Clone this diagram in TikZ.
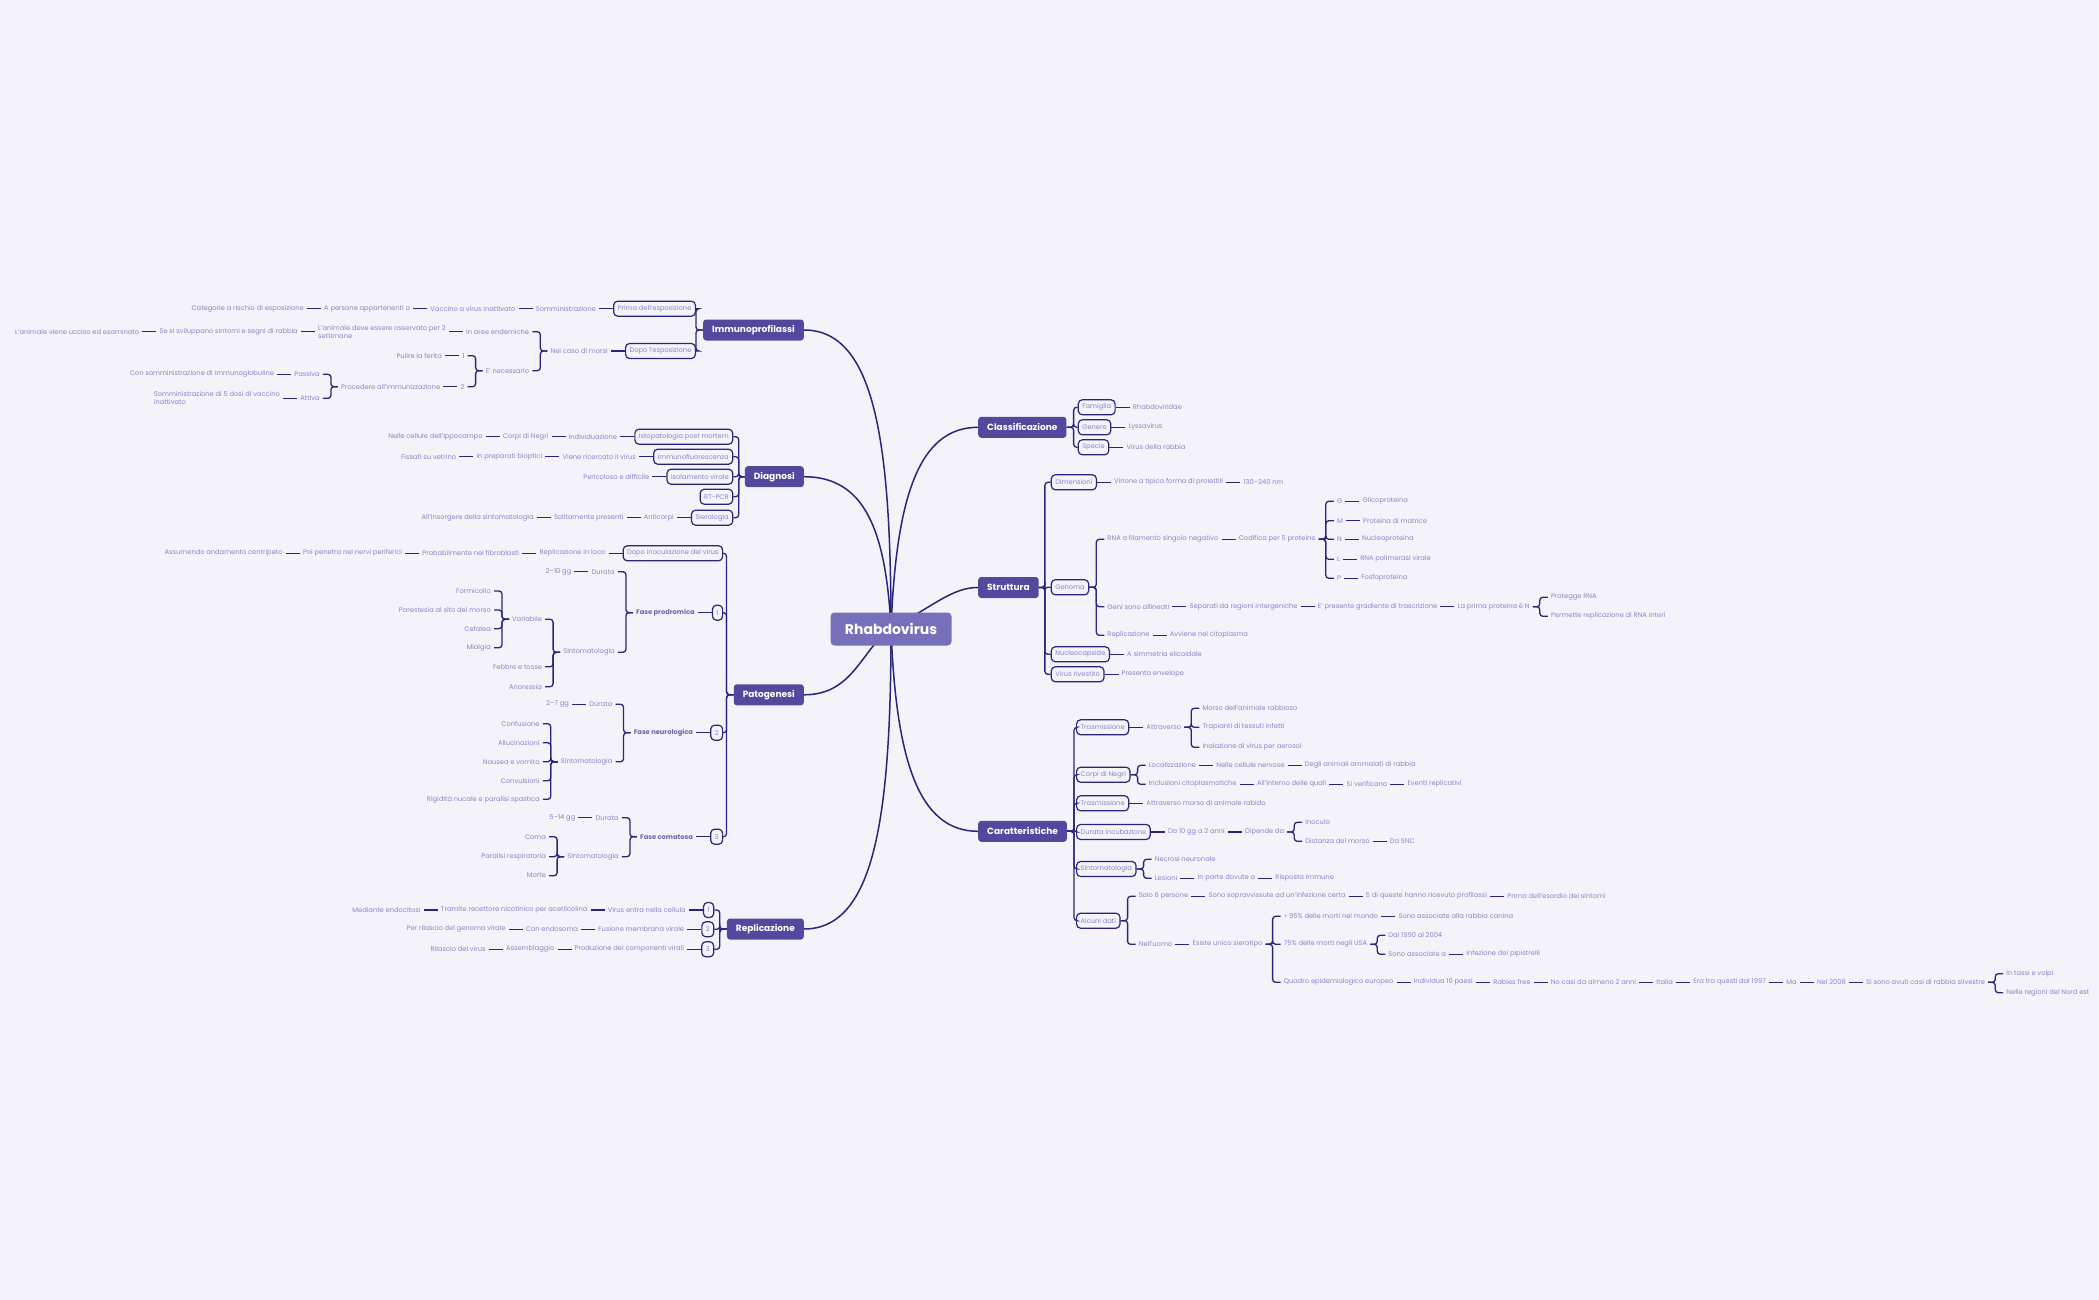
\documentclass[tikz,border=0pt]{standalone}
\usepackage{fontspec}
\setmainfont{Poppins}
\usepackage{tikz}
\usetikzlibrary{positioning, calc, backgrounds}
\usepackage{xcolor}
\definecolor{pagebg}{RGB}{244, 243, 250}
\definecolor{linknavy}{RGB}{40, 38, 122}
\definecolor{topicpurple}{RGB}{82, 72, 158}
\definecolor{rootpurple}{RGB}{118, 112, 186}
\definecolor{leafgray}{RGB}{138, 133, 200}
\definecolor{phasepurple}{RGB}{108, 102, 176}
\newcommand{\leaffont}{\fontsize{6.7}{8}\selectfont}

\begin{document}
\begin{tikzpicture}[
  x=1pt, y=-1pt,
  node distance = 14pt,
  rootbox/.style = {rectangle, rounded corners=4pt, fill=rootpurple, text=white,
                    minimum width=121pt, minimum height=33pt,
                    font=\fontsize{14}{16}\selectfont\bfseries},
  topic/.style   = {rectangle, rounded corners=3pt, fill=topicpurple, text=white,
                    minimum height=21pt, inner xsep=9pt,
                    font=\fontsize{9}{10}\selectfont\bfseries},
  subbox/.style  = {rectangle, rounded corners=4pt, draw=linknavy, line width=1.2pt,
                    fill=pagebg, text=leafgray, minimum height=15pt,
                    inner xsep=4pt, inner ysep=1pt, font=\leaffont},
  leaf/.style    = {text=leafgray, inner xsep=3pt, inner ysep=1pt, font=\leaffont},
  phase/.style   = {leaf, text=phasepurple, font=\leaffont\bfseries},
  link/.style    = {draw=linknavy, line width=1.3pt, rounded corners=3pt},
  branch/.style  = {draw=linknavy, line width=1.5pt}
]
\useasboundingbox (0,0) rectangle (2099,1300);

%% Centre
\node[rootbox] (root) at (891,629) {Rhabdovirus};

%% Immunoprofilassi
\node[topic, anchor=east] (immuno) at (804,330) {Immunoprofilassi};
\node[subbox, anchor=east] (prima) at (696,308.7) {Prima dell'esposizione};
\node[subbox, anchor=east] (dopo) at (696,351) {Dopo l'esposizione};
\node[leaf, left=of prima] (somm) {Somministrazione};
\node[leaf, left=of somm] (vaccino) {Vaccino a virus inattivato};
\node[leaf, left=of vaccino] (persone) {A persone appartenenti a};
\node[leaf, left=of persone] (categorie) {Categorie a rischio di esposizione};
\node[leaf, left=of dopo] (morsi) {Nel caso di morsi};
\node[leaf, anchor=east] (endem) at ($(morsi.west)+(-15,-19.3)$) {In aree endemiche};
\node[leaf, left=of endem, align=left] (osserv) {L'animale deve essere osservato per 2\\settimane};
\node[leaf, left=of osserv] (svilup) {Se si sviluppano sintomi e segni di rabbia};
\node[leaf, left=of svilup] (ucciso) {L'animale viene ucciso ed esaminato};
\node[leaf, anchor=east] (necess) at ($(morsi.west)+(-15,19.7)$) {E' necessario};
\node[leaf, anchor=east] (uno) at ($(necess.west)+(-15,-15)$) {1};
\node[leaf, left=of uno] (pulire) {Pulire la ferita};
\node[leaf, anchor=east] (due) at ($(necess.west)+(-15,16)$) {2};
\node[leaf, left=of due] (immun) {Procedere all'immunizzazione};
\node[leaf, anchor=east] (passiva) at ($(immun.west)+(-15,-12.4)$) {Passiva};
\node[leaf, left=of passiva] (immglob) {Con somministrazione di immunoglobuline};
\node[leaf, anchor=east] (attiva) at ($(immun.west)+(-15,11.6)$) {Attiva};
\node[leaf, left=of attiva, align=left] (cinque) {Somministrazione di 5 dosi di vaccino\\inattivato};

%% Diagnosi
\node[topic, anchor=east] (diagnosi) at (804,476.7) {Diagnosi};
\node[subbox, anchor=east] (isto) at (733.3,436.7) {Istopatologia post mortem};
\node[subbox, anchor=east] (immfl) at (733.3,456.7) {Immunofluorescenza};
\node[subbox, anchor=east] (isol) at (733.3,476.7) {Isolamento virale};
\node[subbox, anchor=east] (rtpcr) at (733.3,496.7) {RT-PCR};
\node[subbox, anchor=east] (sierol) at (733.3,517.7) {Sierologia};
\node[leaf, left=of isto] (indiv) {Individuazione};
\node[leaf, left=of indiv] (negri) {Corpi di Negri};
\node[leaf, left=of negri] (ippoc) {Nelle cellule dell'ippocampo};
\node[leaf, left=of immfl] (ricerc) {Viene ricercato il virus};
\node[leaf, left=of ricerc] (biopt) {In preparati bioptici};
\node[leaf, left=of biopt] (vetrino) {Fissati su vetrino};
\node[leaf, left=of isol] (pericol) {Pericoloso e difficile};
\node[leaf, left=of sierol] (anticorpi) {Anticorpi};
\node[leaf, left=of anticorpi] (solit) {Solitamente presenti};
\node[leaf, left=of solit] (insorg) {All'insorgere della sintomatologia};

%% Patogenesi
\node[topic, anchor=east] (patog) at (804,694.8) {Patogenesi};
\node[subbox, anchor=east] (inocul) at (723.2,553.3) {Dopo inoculazione del virus};
\node[subbox, anchor=east] (fase1) at (723.2,612.7) {1};
\node[subbox, anchor=east] (fase2) at (723.2,732.7) {2};
\node[subbox, anchor=east] (fase3) at (723.2,836.7) {3};
\node[leaf, left=of inocul] (locorep) {Replicazione in loco};
\node[leaf, left=of locorep] (fibro) {Probabilmente nei fibroblasti};
\node[leaf, left=of fibro] (nervi) {Poi penetra nei nervi periferici};
\node[leaf, left=of nervi] (centrip) {Assumendo andamento centripeto};

\node[phase, left=of fase1] (prodrom) {Fase prodromica};
\node[leaf, anchor=east] (durA) at ($(prodrom.west)+(-15,-41)$) {Durata};
\node[leaf, left=of durA] (ggA) {2--10 gg};
\node[leaf, anchor=east] (sintA) at ($(prodrom.west)+(-15,39.6)$) {Sintomatologia};
\node[leaf, anchor=east] (variab) at ($(sintA.west)+(-15,-33)$) {Variabile};
\node[leaf, anchor=east] (febbre) at ($(sintA.west)+(-15,14.4)$) {Febbre e tosse};
\node[leaf, anchor=east] (anoress) at ($(sintA.west)+(-15,34.4)$) {Anoressia};
\node[leaf, anchor=east] (formic) at ($(variab.west)+(-15,-28.3)$) {Formicolio};
\node[leaf, anchor=east] (parest) at ($(variab.west)+(-15,-9.3)$) {Parestesia al sito del morso};
\node[leaf, anchor=east] (cefalea) at ($(variab.west)+(-15,9.4)$) {Cefalea};
\node[leaf, anchor=east] (mialgia) at ($(variab.west)+(-15,28.4)$) {Mialgia};

\node[phase, left=of fase2] (neuro) {Fase neurologica};
\node[leaf, anchor=east] (durB) at ($(neuro.west)+(-15,-28.4)$) {Durata};
\node[leaf, left=of durB] (ggB) {2--7 gg};
\node[leaf, anchor=east] (sintB) at ($(neuro.west)+(-15,29)$) {Sintomatologia};
\node[leaf, anchor=east] (confus) at ($(sintB.west)+(-15,-38)$) {Confusione};
\node[leaf, anchor=east] (alluc) at ($(sintB.west)+(-15,-19)$) {Allucinazioni};
\node[leaf, anchor=east] (nausea) at ($(sintB.west)+(-15,0)$) {Nausea e vomito};
\node[leaf, anchor=east] (convul) at ($(sintB.west)+(-15,19)$) {Convulsioni};
\node[leaf, anchor=east] (rigid) at ($(sintB.west)+(-15,37.6)$) {Rigidità nucale e paralisi spastica};

\node[phase, left=of fase3] (comat) {Fase comatosa};
\node[leaf, anchor=east] (durC) at ($(comat.west)+(-15,-19)$) {Durata};
\node[leaf, left=of durC] (ggC) {5--14 gg};
\node[leaf, anchor=east] (sintC) at ($(comat.west)+(-15,20)$) {Sintomatologia};
\node[leaf, anchor=east] (coma) at ($(sintC.west)+(-15,-20)$) {Coma};
\node[leaf, anchor=east] (paral) at ($(sintC.west)+(-15,0)$) {Paralisi respiratoria};
\node[leaf, anchor=east] (morte) at ($(sintC.west)+(-15,19)$) {Morte};

%% Replicazione
\node[topic, anchor=east] (replic) at (804,929) {Replicazione};
\node[subbox, anchor=east] (rep1) at (714.3,910) {1};
\node[subbox, anchor=east] (rep2) at (714.3,929.3) {2};
\node[subbox, anchor=east] (rep3) at (714.3,949.3) {3};
\node[leaf, left=of rep1] (entra) {Virus entra nella cellula};
\node[leaf, left=of entra] (recett) {Tramite recettore nicotinico per acetilcolina};
\node[leaf, left=of recett] (endoc) {Mediante endocitosi};
\node[leaf, left=of rep2] (fusione) {Fusione membrana virale};
\node[leaf, left=of fusione] (endos) {Con endosoma};
\node[leaf, left=of endos] (rilgen) {Per rilascio del genoma virale};
\node[leaf, left=of rep3] (produz) {Produzione dei componenti virali};
\node[leaf, left=of produz] (assem) {Assemblaggio};
\node[leaf, left=of assem] (rilvir) {Rilascio del virus};

%% Classificazione
\node[topic, anchor=west] (classif) at (978,427.3) {Classificazione};
\node[subbox, anchor=west] (famiglia) at (1077.7,407.3) {Famiglia};
\node[subbox, anchor=west] (genere) at (1077.7,427.3) {Genere};
\node[subbox, anchor=west] (specie) at (1077.7,447.3) {Specie};
\node[leaf, right=of famiglia] (rhabdo) {Rhabdoviridae};
\node[leaf, right=of genere] (lyssa) {Lyssavirus};
\node[leaf, right=of specie] (vrabbia) {Virus della rabbia};

%% Struttura
\node[topic, anchor=west] (strutt) at (978,587.5) {Struttura};
\node[subbox, anchor=west] (dimens) at (1050.7,482.3) {Dimensioni};
\node[subbox, anchor=west] (genoma) at (1050.7,587.3) {Genoma};
\node[subbox, anchor=west] (nucleo) at (1050.7,654.3) {Nucleocapside};
\node[subbox, anchor=west] (rivest) at (1050.7,674.3) {Virus rivestito};
\node[leaf, right=of dimens] (virione) {Virione a tipica forma di proiettili};
\node[leaf, right=of virione] (nm) {130--240 nm};
\node[leaf, anchor=west] (rna) at ($(genoma.east)+(15,-48)$) {RNA a filamento singolo negativo};
\node[leaf, right=of rna] (codif) {Codifica per 5 proteine};
\node[leaf, anchor=west] (protG) at ($(codif.east)+(15,-38)$) {G};
\node[leaf, anchor=west] (protM) at ($(codif.east)+(15,-18.6)$) {M};
\node[leaf, anchor=west] (protN) at ($(codif.east)+(15,0)$) {N};
\node[leaf, anchor=west] (protL) at ($(codif.east)+(15,20)$) {L};
\node[leaf, anchor=west] (protP) at ($(codif.east)+(15,39)$) {P};
\node[leaf, right=of protG] (glico) {Glicoproteina};
\node[leaf, right=of protM] (matrice) {Proteina di matrice};
\node[leaf, right=of protN] (nucleoprot) {Nucleoproteina};
\node[leaf, right=of protL] (polim) {RNA polimerasi virale};
\node[leaf, right=of protP] (fosfo) {Fosfoproteina};
\node[leaf, anchor=west] (geni) at ($(genoma.east)+(15,19.4)$) {Geni sono allineati};
\node[leaf, right=of geni] (separ) {Separati da regioni intergeniche};
\node[leaf, right=of separ] (gradi) {E' presente gradiente di trascrizione};
\node[leaf, right=of gradi] (primaN) {La prima proteina è N};
\node[leaf, anchor=west] (protegge) at ($(primaN.east)+(15,-9.4)$) {Protegge RNA};
\node[leaf, anchor=west] (permette) at ($(primaN.east)+(15,9.6)$) {Permette replicazione di RNA interi};
\node[leaf, anchor=west] (replS) at ($(genoma.east)+(15,48)$) {Replicazione};
\node[leaf, right=of replS] (citopl) {Avviene nel citoplasma};
\node[leaf, right=of nucleo] (elic) {A simmetria elicoidale};
\node[leaf, right=of rivest] (envel) {Presenta envelope};

%% Caratteristiche
\node[topic, anchor=west] (caratt) at (978,831.3) {Caratteristiche};
\node[subbox, anchor=west] (trasA) at (1076,727.3) {Trasmissione};
\node[subbox, anchor=west] (negriC) at (1076,774.7) {Corpi di Negri};
\node[subbox, anchor=west] (trasB) at (1076,803.3) {Trasmissione};
\node[subbox, anchor=west] (incub) at (1076,832) {Durata incubazione};
\node[subbox, anchor=west] (sintK) at (1076,869) {Sintomatologia};
\node[subbox, anchor=west] (dati) at (1076,920.7) {Alcuni dati};
\node[leaf, right=of trasA] (attrav) {Attraverso};
\node[leaf, anchor=west] (morso) at ($(attrav.east)+(15,-19)$) {Morso dell'animale rabbioso};
\node[leaf, anchor=west] (trapianti) at ($(attrav.east)+(15,0)$) {Trapianti di tessuti infetti};
\node[leaf, anchor=west] (inalaz) at ($(attrav.east)+(15,20)$) {Inalazione di virus per aerosol};
\node[leaf, anchor=west] (localiz) at ($(negriC.east)+(15,-9.4)$) {Localizzazione};
\node[leaf, right=of localiz] (nervose) {Nelle cellule nervose};
\node[leaf, right=of nervose] (ammalati) {Degli animali ammalati di rabbia};
\node[leaf, anchor=west] (inclus) at ($(negriC.east)+(15,9.6)$) {Inclusioni citoplasmatiche};
\node[leaf, right=of inclus] (interno) {All'interno delle quali};
\node[leaf, right=of interno] (verif) {Si verificano};
\node[leaf, right=of verif] (eventi) {Eventi replicativi};
\node[leaf, right=of trasB] (morsorab) {Attraverso morso di animale rabido};
\node[leaf, right=of incub] (dieci) {Da 10 gg a 2 anni};
\node[leaf, right=of dieci] (dipende) {Dipende da};
\node[leaf, anchor=west] (inoculo) at ($(dipende.east)+(15,-9.7)$) {Inoculo};
\node[leaf, anchor=west] (distanza) at ($(dipende.east)+(15,9.3)$) {Distanza del morso};
\node[leaf, right=of distanza] (snc) {Da SNC};
\node[leaf, anchor=west] (necrosi) at ($(sintK.east)+(15,-9.7)$) {Necrosi neuronale};
\node[leaf, anchor=west] (lesioni) at ($(sintK.east)+(15,9.3)$) {Lesioni};
\node[leaf, right=of lesioni] (inparte) {In parte dovute a};
\node[leaf, right=of inparte] (risposta) {Risposta immune};
\node[leaf, anchor=west] (solo6) at ($(dati.east)+(15,-24.4)$) {Solo 6 persone};
\node[leaf, right=of solo6] (soprav) {Sono sopravvissute ad un'infezione certa};
\node[leaf, right=of soprav] (cinqueP) {5 di queste hanno ricevuto profilassi};
\node[leaf, right=of cinqueP] (esordio) {Prima dell'esordio dei sintomi};
\node[leaf, anchor=west] (uomo) at ($(dati.east)+(15,23.6)$) {Nell'uomo};
\node[leaf, right=of uomo] (sierotipo) {Esiste unico sierotipo};
\node[leaf, anchor=west] (mondo) at ($(sierotipo.east)+(15,-28)$) {> 95\% delle morti nel mondo};
\node[leaf, right=of mondo] (canina) {Sono associate alla rabbia canina};
\node[leaf, anchor=west] (usa) at ($(sierotipo.east)+(15,0)$) {75\% delle morti negli USA};
\node[leaf, anchor=west] (dal90) at ($(usa.east)+(15,-9)$) {Dal 1990 al 2004};
\node[leaf, anchor=west] (assocA) at ($(usa.east)+(15,10)$) {Sono associate a};
\node[leaf, right=of assocA] (pipis) {Infezione dei pipistrelli};
\node[leaf, anchor=west] (europa) at ($(sierotipo.east)+(15,38)$) {Quadro epidemiologico europeo};
\node[leaf, right=of europa] (paesi) {Individua 10 paesi};
\node[leaf, right=of paesi] (free) {Rabies free};
\node[leaf, right=of free] (nocasi) {No casi da almeno 2 anni};
\node[leaf, right=of nocasi] (italia) {Italia};
\node[leaf, right=of italia] (era97) {Era tra questi dal 1997};
\node[leaf, right=of era97] (ma) {Ma};
\node[leaf, right=of ma] (nel08) {Nel 2008};
\node[leaf, right=of nel08] (silv) {Si sono avuti casi di rabbia silvestre};
\node[leaf, anchor=west] (tassi) at ($(silv.east)+(15,-8.6)$) {In tassi e volpi};
\node[leaf, anchor=west] (nordest) at ($(silv.east)+(15,10.4)$) {Nelle regioni del Nord est};

%% Left links
\draw[link] (immuno.west) -- ++(-7,0) |- (prima.east);
\draw[link] (immuno.west) -- ++(-7,0) |- (dopo.east);
\draw[link] (prima.west) -- (somm.east) (somm.west) -- (vaccino.east)
  (vaccino.west) -- (persone.east) (persone.west) -- (categorie.east);
\draw[link] (dopo.west) -- (morsi.east);
\draw[link] (morsi.west) -- ++(-7,0) |- (endem.east);
\draw[link] (morsi.west) -- ++(-7,0) |- (necess.east);
\draw[link] (endem.west) -- (osserv.east) (osserv.west) -- (svilup.east)
  (svilup.west) -- (ucciso.east);
\draw[link] (necess.west) -- ++(-7,0) |- (uno.east);
\draw[link] (necess.west) -- ++(-7,0) |- (due.east);
\draw[link] (uno.west) -- (pulire.east) (due.west) -- (immun.east);
\draw[link] (immun.west) -- ++(-7,0) |- (passiva.east);
\draw[link] (immun.west) -- ++(-7,0) |- (attiva.east);
\draw[link] (passiva.west) -- (immglob.east) (attiva.west) -- (cinque.east);

\foreach \kid in {isto, immfl, isol, rtpcr, sierol}
  \draw[link] (diagnosi.west) -- ++(-6,0) |- (\kid.east);
\draw[link] (isto.west) -- (indiv.east) (indiv.west) -- (negri.east)
  (negri.west) -- (ippoc.east);
\draw[link] (immfl.west) -- (ricerc.east) (ricerc.west) -- (biopt.east)
  (biopt.west) -- (vetrino.east);
\draw[link] (isol.west) -- (pericol.east);
\draw[link] (sierol.west) -- (anticorpi.east) (anticorpi.west) -- (solit.east)
  (solit.west) -- (insorg.east);

\foreach \kid in {inocul, fase1, fase2, fase3}
  \draw[link] (patog.west) -- ++(-7,0) |- (\kid.east);
\draw[link] (inocul.west) -- (locorep.east) (locorep.west) -- (fibro.east)
  (fibro.west) -- (nervi.east) (nervi.west) -- (centrip.east);
\draw[link] (fase1.west) -- (prodrom.east);
\draw[link] (prodrom.west) -- ++(-7,0) |- (durA.east);
\draw[link] (prodrom.west) -- ++(-7,0) |- (sintA.east);
\draw[link] (durA.west) -- (ggA.east);
\foreach \kid in {variab, febbre, anoress}
  \draw[link] (sintA.west) -- ++(-7,0) |- (\kid.east);
\foreach \kid in {formic, parest, cefalea, mialgia}
  \draw[link] (variab.west) -- ++(-7,0) |- (\kid.east);
\draw[link] (fase2.west) -- (neuro.east);
\draw[link] (neuro.west) -- ++(-7,0) |- (durB.east);
\draw[link] (neuro.west) -- ++(-7,0) |- (sintB.east);
\draw[link] (durB.west) -- (ggB.east);
\foreach \kid in {confus, alluc, nausea, convul, rigid}
  \draw[link] (sintB.west) -- ++(-7,0) |- (\kid.east);
\draw[link] (fase3.west) -- (comat.east);
\draw[link] (comat.west) -- ++(-7,0) |- (durC.east);
\draw[link] (comat.west) -- ++(-7,0) |- (sintC.east);
\draw[link] (durC.west) -- (ggC.east);
\foreach \kid in {coma, paral, morte}
  \draw[link] (sintC.west) -- ++(-7,0) |- (\kid.east);

\foreach \kid in {rep1, rep2, rep3}
  \draw[link] (replic.west) -- ++(-7,0) |- (\kid.east);
\draw[link] (rep1.west) -- (entra.east) (entra.west) -- (recett.east)
  (recett.west) -- (endoc.east);
\draw[link] (rep2.west) -- (fusione.east) (fusione.west) -- (endos.east)
  (endos.west) -- (rilgen.east);
\draw[link] (rep3.west) -- (produz.east) (produz.west) -- (assem.east)
  (assem.west) -- (rilvir.east);

%% Right links
\foreach \kid in {famiglia, genere, specie}
  \draw[link] (classif.east) -- ++(7,0) |- (\kid.west);
\draw[link] (famiglia.east) -- (rhabdo.west) (genere.east) -- (lyssa.west)
  (specie.east) -- (vrabbia.west);

\foreach \kid in {dimens, genoma, nucleo, rivest}
  \draw[link] (strutt.east) -- ++(6,0) |- (\kid.west);
\draw[link] (dimens.east) -- (virione.west) (virione.east) -- (nm.west);
\foreach \kid in {rna, geni, replS}
  \draw[link] (genoma.east) -- ++(7,0) |- (\kid.west);
\draw[link] (rna.east) -- (codif.west);
\foreach \kid in {protG, protM, protN, protL, protP}
  \draw[link] (codif.east) -- ++(7,0) |- (\kid.west);
\draw[link] (protG.east) -- (glico.west) (protM.east) -- (matrice.west)
  (protN.east) -- (nucleoprot.west) (protL.east) -- (polim.west)
  (protP.east) -- (fosfo.west);
\draw[link] (geni.east) -- (separ.west) (separ.east) -- (gradi.west)
  (gradi.east) -- (primaN.west);
\draw[link] (primaN.east) -- ++(7,0) |- (protegge.west);
\draw[link] (primaN.east) -- ++(7,0) |- (permette.west);
\draw[link] (replS.east) -- (citopl.west);
\draw[link] (nucleo.east) -- (elic.west) (rivest.east) -- (envel.west);

\foreach \kid in {trasA, negriC, trasB, incub, sintK, dati}
  \draw[link] (caratt.east) -- ++(7,0) |- (\kid.west);
\draw[link] (trasA.east) -- (attrav.west);
\foreach \kid in {morso, trapianti, inalaz}
  \draw[link] (attrav.east) -- ++(7,0) |- (\kid.west);
\draw[link] (negriC.east) -- ++(7,0) |- (localiz.west);
\draw[link] (negriC.east) -- ++(7,0) |- (inclus.west);
\draw[link] (localiz.east) -- (nervose.west) (nervose.east) -- (ammalati.west);
\draw[link] (inclus.east) -- (interno.west) (interno.east) -- (verif.west)
  (verif.east) -- (eventi.west);
\draw[link] (trasB.east) -- (morsorab.west);
\draw[link] (incub.east) -- (dieci.west) (dieci.east) -- (dipende.west);
\draw[link] (dipende.east) -- ++(7,0) |- (inoculo.west);
\draw[link] (dipende.east) -- ++(7,0) |- (distanza.west);
\draw[link] (distanza.east) -- (snc.west);
\draw[link] (sintK.east) -- ++(7,0) |- (necrosi.west);
\draw[link] (sintK.east) -- ++(7,0) |- (lesioni.west);
\draw[link] (lesioni.east) -- (inparte.west) (inparte.east) -- (risposta.west);
\draw[link] (dati.east) -- ++(7,0) |- (solo6.west);
\draw[link] (dati.east) -- ++(7,0) |- (uomo.west);
\draw[link] (solo6.east) -- (soprav.west) (soprav.east) -- (cinqueP.west)
  (cinqueP.east) -- (esordio.west);
\draw[link] (uomo.east) -- (sierotipo.west);
\foreach \kid in {mondo, usa, europa}
  \draw[link] (sierotipo.east) -- ++(7,0) |- (\kid.west);
\draw[link] (mondo.east) -- (canina.west);
\draw[link] (usa.east) -- ++(7,0) |- (dal90.west);
\draw[link] (usa.east) -- ++(7,0) |- (assocA.west);
\draw[link] (assocA.east) -- (pipis.west);
\draw[link] (europa.east) -- (paesi.west) (paesi.east) -- (free.west)
  (free.east) -- (nocasi.west) (nocasi.east) -- (italia.west)
  (italia.east) -- (era97.west) (era97.east) -- (ma.west)
  (ma.east) -- (nel08.west) (nel08.east) -- (silv.west);
\draw[link] (silv.east) -- ++(7,0) |- (tassi.west);
\draw[link] (silv.east) -- ++(7,0) |- (nordest.west);

%% Main branches, under the boxes
\begin{scope}[on background layer]
  \fill[pagebg] (0,0) rectangle (2099,1300);
  \draw[branch] (root.center) .. controls +(0,-190) and +(70,0) .. (immuno.east);
  \draw[branch] (root.center) .. controls +(-5,-100) and +(60,0) .. (diagnosi.east);
  \draw[branch] (root.center) .. controls +(-30,20) and +(50,0) .. (patog.east);
  \draw[branch] (root.center) .. controls +(0,190) and +(70,0) .. (replic.east);
  \draw[branch] (root.center) .. controls +(5,-130) and +(-60,0) .. (classif.west);
  \draw[branch] (root.center) .. controls +(45,-25) and +(-25,0) .. (strutt.west);
  \draw[branch] (root.center) .. controls +(5,130) and +(-60,0) .. (caratt.west);
\end{scope}

\end{tikzpicture}
\end{document}
